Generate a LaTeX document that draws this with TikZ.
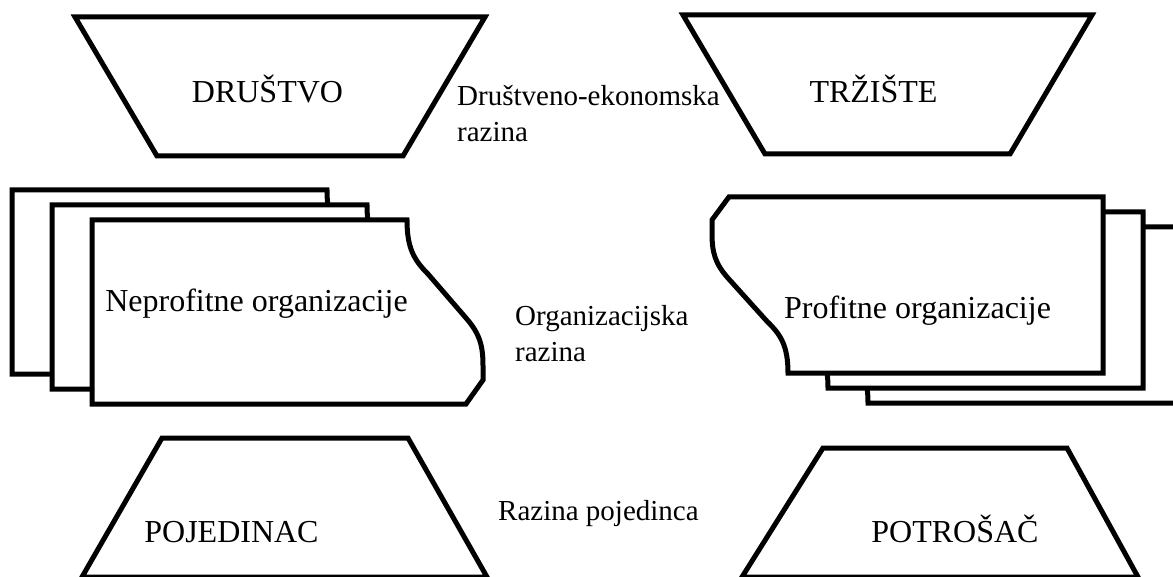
\documentclass[tikz,border=0pt]{standalone}
\usepackage{fontspec}
\setmainfont{Liberation Serif}
\usetikzlibrary{positioning}

\begin{document}
\begin{tikzpicture}[
        x=1pt, y=-1pt,
        boxline/.style={draw=black, fill=white, line width=5pt},
        bigtext/.style={font=\fontsize{32}{36}\selectfont, inner sep=0pt, anchor=base},
        leveltext/.style={font=\fontsize{29}{36}\selectfont, inner sep=0pt, align=left, anchor=base west},
        orgcard/.pic={
            \draw[boxline] (0,0) -- (315,0) .. controls (315,28) and (322,40) .. (336,54)
                -- (374,98) .. controls (388,114) and (391,126) .. (391,146)
                -- (391,160) -- (374,184) -- (0,184) -- cycle;
        }
    ]
    \useasboundingbox (0,0) rectangle (1173,577);
    \clip (0,0) rectangle (1173,577);

    % Top row - trapezoids
    \draw[boxline] (75,17) -- (485,17) -- (403,156) -- (157,156) -- cycle;
    \draw[boxline] (683,15) -- (1092,15) -- (1010,154) -- (765,154) -- cycle;
    \node[bigtext] (drustvo) at (267.5,103) {DRUŠTVO};
    \node[bigtext] (trziste) at (873.5,103) {TRŽIŠTE};

    % Middle row - stacks of organisations
    \pic at (12,190) {orgcard};
    \pic at (52,205) {orgcard};
    \pic at (92,220) {orgcard};
    \pic[xscale=-1, yscale=-0.957] at (1183,403) {orgcard};
    \pic[xscale=-1, yscale=-0.957] at (1143,388) {orgcard};
    \pic[xscale=-1, yscale=-0.957] at (1103,373) {orgcard};
    \node[bigtext] (neprofitne) at (256.5,312) {Neprofitne organizacije};
    \node[bigtext] (profitne) at (917.5,319) {Profitne organizacije};

    % Bottom row - trapezoids
    \draw[boxline] (162,438) -- (408,438) -- (487,577) -- (82,577) -- cycle;
    \draw[boxline] (823,448) -- (1067,448) -- (1138,577) -- (742,577) -- cycle;
    \node[bigtext] (pojedinac) at (231.5,542) {POJEDINAC};
    \node[bigtext] (potrosac) at (955,542) {POTROŠAČ};

    % Levels
    \node[leveltext] (drustvena) at (457,142) {Društveno-ekonomska\\razina};
    \node[leveltext] (organizacijska) at (515,362) {Organizacijska\\razina};
    \node[leveltext] (pojedinacna) at (498,520) {Razina pojedinca};
\end{tikzpicture}
\end{document}
